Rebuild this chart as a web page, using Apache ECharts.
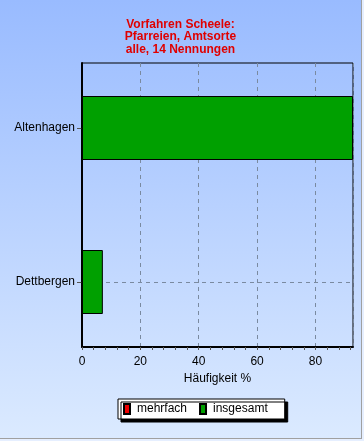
<!DOCTYPE html>
<html>
<head>
<meta charset="utf-8">
<script src="https://cdn.jsdelivr.net/npm/echarts@6/dist/echarts.min.js"></script>
<style>
html,body{margin:0;padding:0;background:#e6efff;}
#chart{width:361px;height:438px;border-right:1px solid #a0a0a0;border-bottom:1px solid #a0a0a0;}
</style>
</head>
<body>
<div id="chart"></div>
<script>
// Data
const categories = ['Dettbergen', 'Altenhagen'];
const mehrfach = [0, 0];
const insgesamt = [7.142857, 92.857143];
const titleLines = ['Vorfahren Scheele:', 'Pfarreien, Amtsorte', 'alle, 14 Nennungen'];
const xAxisName = 'Häufigkeit %';
const xMax = 92.857143;

const FONT = '"Liberation Sans", Arial, sans-serif';
const chart = echarts.init(document.getElementById('chart'));
chart.setOption({
  animation: false,
  backgroundColor: new echarts.graphic.LinearGradient(0, 0, 0, 1, [
    {offset: 0, color: '#99bbff'},
    {offset: 1, color: '#dbeaff'}
  ]),
  title: {
    text: titleLines.join('\n'),
    left: 'center',
    top: 18,
    padding: 0,
    textStyle: {color: '#e00000', fontSize: 12, fontWeight: 'bold', fontFamily: FONT, lineHeight: 12.5}
  },
  legend: {
    left: 118, top: 399,
    orient: 'horizontal',
    itemWidth: 6, itemHeight: 10, itemGap: 12,
    icon: 'rect',
    backgroundColor: '#ffffff',
    borderColor: '#000', borderWidth: 1,
    padding: [4, 17, 4, 5],
    shadowColor: '#000', shadowOffsetX: 3, shadowOffsetY: 3, shadowBlur: 0,
    textStyle: {fontSize: 12, color: '#000', fontFamily: FONT, padding: [0, 0, 0, 2]},
    data: ['mehrfach', 'insgesamt']
  },
  grid: [
    {left: 82, top: 63, width: 271, height: 284, show: true, borderColor: '#000', borderWidth: 1, backgroundColor: 'transparent'},
    {left: 82, top: 128, width: 271, height: 154}
  ],
  xAxis: [
    {
      gridIndex: 0, type: 'value', min: 0, max: xMax, interval: 4,
      name: xAxisName, nameLocation: 'middle', nameGap: 24,
      nameTextStyle: {fontSize: 12, color: '#000', fontFamily: FONT},
      axisLine: {show: true, lineStyle: {color: '#000', width: 2}},
      axisTick: {show: true, length: 3, lineStyle: {color: '#555'}},
      axisLabel: {
        fontSize: 12, color: '#000', fontFamily: FONT, margin: 9, showMaxLabel: false,
        formatter: v => (Math.abs(v % 20) < 1e-6 ? String(v) : '')
      },
      splitLine: {show: false}
    },
    {
      gridIndex: 0, type: 'value', min: 0, max: xMax, interval: 20, position: 'bottom',
      axisLine: {show: false}, axisTick: {show: false}, axisLabel: {show: false},
      splitLine: {show: true, lineStyle: {color: '#7a8aa0', type: [4, 4], width: 1}}
    },
    {
      gridIndex: 1, type: 'value', min: 0, max: xMax, show: false
    }
  ],
  yAxis: [
    {
      gridIndex: 0, type: 'value', min: 0, max: 1,
      axisLine: {show: true, lineStyle: {color: '#000', width: 2}},
      axisTick: {show: false}, axisLabel: {show: false}, splitLine: {show: false}
    },
    {
      gridIndex: 1, type: 'category', data: categories, boundaryGap: false,
      axisLine: {show: false},
      axisTick: {show: true, length: 5, lineStyle: {color: '#555'}},
      axisLabel: {fontSize: 12, color: '#000', fontFamily: FONT, margin: 7},
      splitLine: {show: true, lineStyle: {color: '#7a8aa0', type: [4, 4], width: 1}}
    }
  ],
  series: [
    {
      name: 'mehrfach', type: 'bar', xAxisIndex: 2, yAxisIndex: 1,
      data: mehrfach, barWidth: 64, barGap: '-100%', clip: false,
      itemStyle: {color: '#ee0000', borderColor: '#000', borderWidth: 1}
    },
    {
      name: 'insgesamt', type: 'bar', xAxisIndex: 2, yAxisIndex: 1,
      data: insgesamt, barWidth: 64, barGap: '-100%', clip: false,
      itemStyle: {color: '#00a000', borderColor: '#000', borderWidth: 1}
    }
  ]
});
</script>
</body>
</html>
